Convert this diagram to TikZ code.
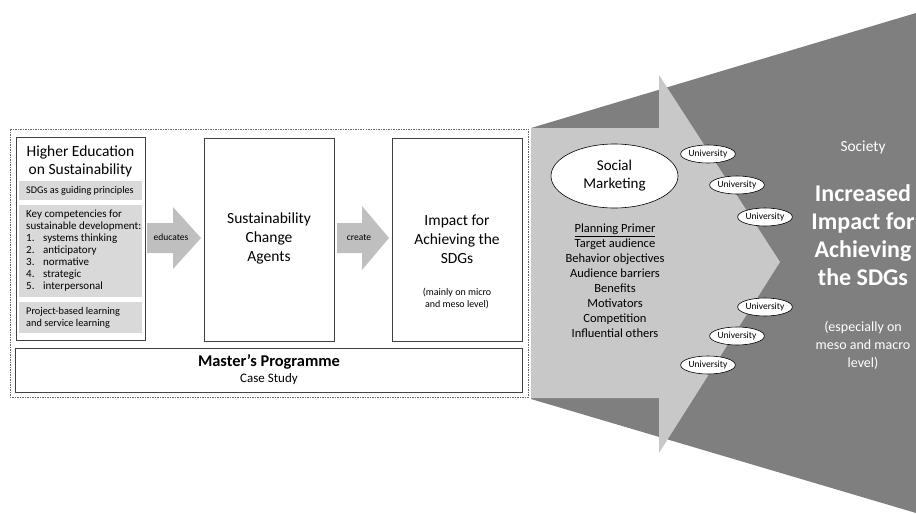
\documentclass[tikz,border=0pt]{standalone}
\usepackage{fontspec}
\setmainfont{Carlito}
\usetikzlibrary{shapes.geometric}
\definecolor{darkg}{RGB}{127,127,127}
\definecolor{lightg}{RGB}{200,200,200}
\definecolor{boxg}{RGB}{217,217,217}
\definecolor{arrowg}{RGB}{191,191,191}
\definecolor{edgec}{RGB}{64,64,64}
\newcommand{\fs}[2]{\fontsize{#1}{#2}\selectfont}
\begin{document}
\begin{tikzpicture}[x=1pt,y=-1pt,
  whitebox/.style={draw=edgec,line width=0.8pt,fill=white},
  graybox/.style={fill=boxg,draw=none},
  blockarrow/.style={fill=arrowg,draw=none},
  txt/.style={inner sep=0pt,align=center,text=black},
  uni/.style={ellipse,draw=black,line width=0.6pt,fill=white,minimum width=53pt,minimum height=18pt,inner sep=0pt,font=\fs{9.5}{11}},
  wtxt/.style={inner sep=0pt,align=center,text=white}]
\useasboundingbox (0,0) rectangle (916,514);

% society (dark) shape
\fill[darkg] (531,128) -- (916,13) -- (916,513) -- (531,399) -- cycle;
% social marketing (light) arrow
\fill[lightg] (531,128) -- (659,128) -- (659,75) -- (780,262) -- (659,453) -- (659,398) -- (531,398) -- cycle;

% dashed frame
\draw[edgec!80,line width=0.8pt,dash pattern=on 1.5pt off 1pt] (10,129) rectangle (528,397);

% Higher education box
\draw[whitebox] (16,137) rectangle (145,340);
\fill[graybox] (19,181) rectangle (142,200);
\fill[graybox] (19,205) rectangle (142,297);
\fill[graybox] (19,302) rectangle (142,333);
\node[txt,font=\fs{15.5}{18}] (he) at (80.5,161) {Higher Education\\on Sustainability};
\node[txt,anchor=west,font=\fs{10.2}{12}] (sdg) at (26,190.5) {SDGs as guiding principles};
\node[txt,anchor=west,align=left,font=\fs{11}{12.1}] (kc) at (26,250.5) {Key competencies for\\sustainable development:\\
\makebox[17pt][l]{1.}systems thinking\\
\makebox[17pt][l]{2.}anticipatory\\
\makebox[17pt][l]{3.}normative\\
\makebox[17pt][l]{4.}strategic\\
\makebox[17pt][l]{5.}interpersonal};
\node[txt,anchor=west,align=left,font=\fs{10.3}{11.5}] (pbl) at (26,318) {Project-based learning\\and service learning};

% change agents box
\draw[whitebox] (204,138) rectangle (334,341);
\node[txt,font=\fs{15.5}{19}] (sca) at (269,238) {Sustainability\\Change\\Agents};

% impact box
\draw[whitebox] (392,138) rectangle (522,341);
\node[txt,font=\fs{15.5}{19}] (imp) at (457,239) {Impact for\\Achieving the\\SDGs};
\node[txt,font=\fs{10}{11.5}] (micro) at (457,298.5) {(mainly on micro\\and meso level)};

% block arrows
\fill[blockarrow] (147,223) -- (173,223) -- (173,207) -- (201,238) -- (173,269) -- (173,253) -- (147,253) -- cycle;
\node[txt,font=\fs{9.5}{11}] (edu) at (171,237.5) {educates};
\fill[blockarrow] (337,223) -- (362,223) -- (362,206) -- (389,238) -- (362,270) -- (362,253) -- (337,253) -- cycle;
\node[txt,font=\fs{9.5}{11}] (cre) at (359,237.5) {create};

% master's programme
\draw[whitebox] (15,348) rectangle (522,392);
\node[txt,font=\bfseries\fs{16.4}{18}] (mp) at (269,362) {Master’s Programme};
\node[txt,font=\fs{13}{14}] (cs) at (269,379.5) {Case Study};

% social marketing
\node[ellipse,draw=black,line width=0.6pt,fill=white,minimum width=127pt,minimum height=64pt,inner sep=0pt,align=center,font=\fs{15}{18}] (sm) at (614.5,176) {Social\\Marketing};
\node[txt,font=\fs{12.5}{15}] (pp) at (615,280.5) {\underline{Planning Primer}\\Target audience\\Behavior objectives\\Audience barriers\\Benefits\\Motivators\\Competition\\Influential others};

% universities
\node[uni] (u1) at (708,154) {University};
\node[uni] (u2) at (737,185) {University};
\node[uni] (u3) at (765,217) {University};
\node[uni] (u4) at (765,307) {University};
\node[uni] (u5) at (737,336) {University};
\node[uni] (u6) at (708,365) {University};

% society texts
\node[wtxt,font=\fs{15.4}{18}] (soc) at (863,147) {Society};
\node[wtxt,font=\bfseries\fs{24}{28}] (inc) at (863,235) {Increased\\Impact for\\Achieving\\the SDGs};
\node[wtxt,font=\fs{14}{18}] (esp) at (863,345) {(especially on\\meso and macro\\level)};
\end{tikzpicture}
\end{document}
